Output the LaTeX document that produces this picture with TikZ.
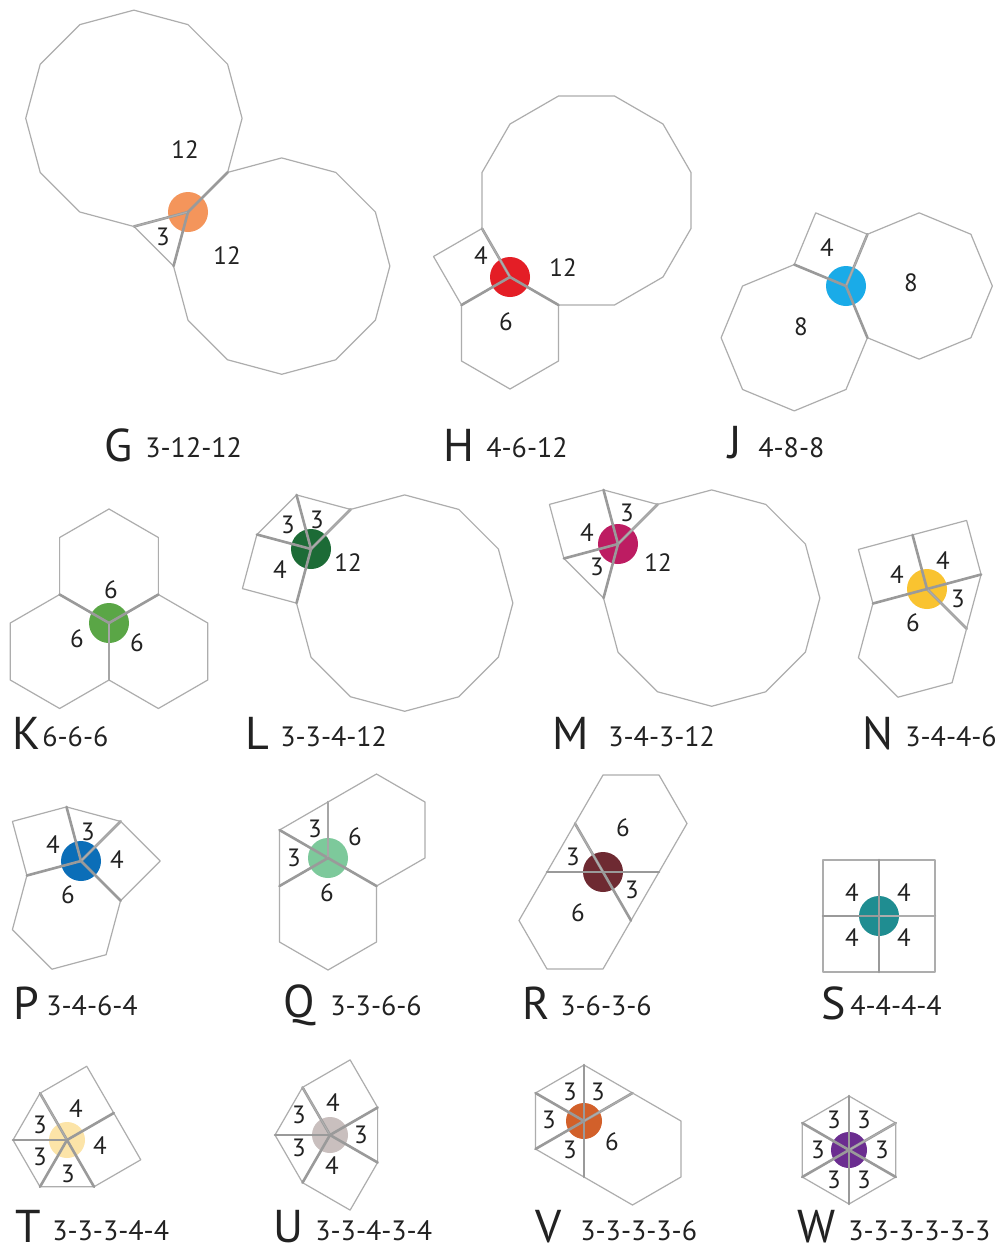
\documentclass[tikz,border=0pt]{standalone}
\usepackage{fontspec}
\setmainfont{PT Sans}

\definecolor{tilegray}{HTML}{ADADAD}
\definecolor{spokegray}{HTML}{9A9A9A}
\definecolor{inkblack}{HTML}{222222}
\definecolor{dotG}{HTML}{F4955B}
\definecolor{dotH}{HTML}{E41E26}
\definecolor{dotJ}{HTML}{1AABE8}
\definecolor{dotK}{HTML}{5AA646}
\definecolor{dotL}{HTML}{1C6B36}
\definecolor{dotM}{HTML}{BD1C62}
\definecolor{dotN}{HTML}{F9C330}
\definecolor{dotP}{HTML}{0B6EB8}
\definecolor{dotQ}{HTML}{7DC99B}
\definecolor{dotR}{HTML}{6E2A32}
\definecolor{dotS}{HTML}{1F8D91}
\definecolor{dotT}{HTML}{FCE4A8}
\definecolor{dotU}{HTML}{C9BFBE}
\definecolor{dotV}{HTML}{D2602A}
\definecolor{dotW}{HTML}{6B2D90}

% regular polygon with a corner at #1: sides, first edge angle, side length
\newcommand{\ngon}[4]{%
  \draw[tile] (#1) \foreach \k in {1,...,#2}{ -- ++({#3+(\k-1)*360/#2}:#4) } -- cycle;
  \draw[spoke] (#1) -- ++(#3:#4);
}
% one vertex figure: name, position, dot colour, polygons (sides/angle), side length
\newcommand{\vfig}[5]{%
  \coordinate (#1) at (#2);
  \fill[#3] (#1) circle (\dotr);
  \foreach \n/\a in {#4} {\ngon{#1}{\n}{\a}{#5}}
}
\def\dotr{20}

\begin{document}
\begin{tikzpicture}[
    x=0.5pt, y=0.5pt,
    tile/.style={draw=tilegray, line width=0.6pt, line join=round},
    spoke/.style={draw=spokegray, line width=1.3pt, line cap=round},
    num/.style={font=\fontsize{12.5}{12.5}\selectfont, text=inkblack, inner sep=0pt},
    letter/.style={font=\fontsize{23}{23}\selectfont, text=inkblack, anchor=base west, inner sep=0pt},
    conf/.style={font=\fontsize{14}{14}\selectfont, text=inkblack, anchor=base west, inner sep=0pt}
]
    \fill[white] (0,0) rectangle (1007,-1254);
    \useasboundingbox (0,0) rectangle (1007,-1254);

    % row 1
    \vfig{G}{188,-212}{dotG}{3/195,12/255,12/45}{56}
    \node[num] (G-a) at (185,-150) {12};
    \node[num] (G-b) at (163,-237) {3};
    \node[num] (G-c) at (227,-256) {12};
    \node[letter] (Gl) at (104,-461) {G};
    \node[conf] (Gc) at (145,-457) {3-12-12};

    \vfig{H}{510,-277}{dotH}{4/120,6/210,12/330}{56}
    \node[num] (H-a) at (481,-256) {4};
    \node[num] (H-b) at (563,-268) {12};
    \node[num] (H-c) at (506,-322) {6};
    \node[letter] (Hl) at (443,-461) {H};
    \node[conf] (Hc) at (486,-457) {4-6-12};

    \vfig{J}{846,-286}{dotJ}{4/67.5,8/157.5,8/292.5}{56}
    \node[num] (J-a) at (827,-248) {4};
    \node[num] (J-b) at (911,-283) {8};
    \node[num] (J-c) at (801,-327) {8};
    \node[letter] (Jl) at (728,-458) {J};
    \node[conf] (Jc) at (758,-457) {4-8-8};

    % row 2
    \vfig{K}{109,-623}{dotK}{6/270,6/30,6/150}{57}
    \node[num] (K-a) at (111,-590) {6};
    \node[num] (K-b) at (77,-639) {6};
    \node[num] (K-c) at (137,-643) {6};
    \node[letter] (Kl) at (12,-749) {K};
    \node[conf] (Kc) at (42,-746) {6-6-6};

    \vfig{L}{311,-549}{dotL}{3/45,3/105,4/165,12/255}{56}
    \node[num] (L-a) at (288,-525) {3};
    \node[num] (L-b) at (317,-520) {3};
    \node[num] (L-c) at (280,-570) {4};
    \node[num] (L-d) at (348,-563) {12};
    \node[letter] (Ll) at (245,-749) {L};
    \node[conf] (Lc) at (280,-746) {3-3-4-12};

    \vfig{M}{618,-544}{dotM}{3/45,4/105,3/195,12/255}{56}
    \node[num] (M-a) at (627,-513) {3};
    \node[num] (M-b) at (587,-533) {4};
    \node[num] (M-c) at (597,-567) {3};
    \node[num] (M-d) at (658,-563) {12};
    \node[letter] (Ml) at (552,-749) {M};
    \node[conf] (Mc) at (608,-746) {3-4-3-12};

    \vfig{N}{927,-589}{dotN}{3/315,4/15,4/105,6/195}{56}
    \node[num] (N-a) at (897,-575) {4};
    \node[num] (N-b) at (943,-561) {4};
    \node[num] (N-c) at (958,-599) {3};
    \node[num] (N-d) at (913,-623) {6};
    \node[letter] (Nl) at (862,-749) {N};
    \node[conf] (Nc) at (905,-746) {3-4-4-6};

    % row 3
    \vfig{P}{81,-861}{dotP}{3/45,4/105,6/195,4/315}{56}
    \node[num] (P-a) at (88,-832) {3};
    \node[num] (P-b) at (53,-845) {4};
    \node[num] (P-c) at (117,-860) {4};
    \node[num] (P-d) at (68,-895) {6};
    \node[letter] (Pl) at (13,-1019) {P};
    \node[conf] (Pc) at (46,-1015) {3-4-6-4};

    \vfig{Q}{328,-858}{dotQ}{3/90,3/150,6/210,6/330}{56}
    \node[num] (Q-a) at (315,-829) {3};
    \node[num] (Q-b) at (294,-858) {3};
    \node[num] (Q-c) at (355,-837) {6};
    \node[num] (Q-d) at (327,-893) {6};
    \node[letter] (Ql) at (283,-1017) {Q};
    \node[conf] (Qc) at (330,-1015) {3-3-6-6};

    \vfig{R}{603,-872}{dotR}{3/120,6/180,3/300,6/0}{56}
    \node[num] (R-a) at (623,-828) {6};
    \node[num] (R-b) at (573,-857) {3};
    \node[num] (R-c) at (632,-890) {3};
    \node[num] (R-d) at (578,-913) {6};
    \node[letter] (Rl) at (522,-1019) {R};
    \node[conf] (Rc) at (560,-1015) {3-6-3-6};

    \vfig{S}{879,-916}{dotS}{4/0,4/90,4/180,4/270}{56}
    \node[num] (S-a) at (852,-893) {4};
    \node[num] (S-b) at (904,-893) {4};
    \node[num] (S-c) at (852,-938) {4};
    \node[num] (S-d) at (904,-938) {4};
    \node[letter] (Sl) at (821,-1019) {S};
    \node[conf] (Sc) at (850,-1015) {4-4-4-4};

    % row 4
    \def\dotr{18}
    \vfig{T}{67,-1140}{dotT}{3/120,3/180,3/240,4/300,4/30}{54}
    \node[num] (T-a) at (40,-1125) {3};
    \node[num] (T-b) at (76,-1109) {4};
    \node[num] (T-c) at (40,-1157) {3};
    \node[num] (T-d) at (100,-1146) {4};
    \node[num] (T-e) at (68,-1174) {3};
    \node[letter] (Tl) at (15,-1242) {T};
    \node[conf] (Tc) at (52,-1240) {3-3-3-4-4};

    \vfig{U}{330,-1135}{dotU}{3/120,3/180,4/240,3/330,4/30}{55}
    \node[num] (U-a) at (333,-1103) {4};
    \node[num] (U-b) at (299,-1115) {3};
    \node[num] (U-c) at (361,-1135) {3};
    \node[num] (U-d) at (299,-1148) {3};
    \node[num] (U-e) at (332,-1166) {4};
    \node[letter] (Ul) at (273,-1242) {U};
    \node[conf] (Uc) at (315,-1240) {3-3-4-3-4};

    \vfig{V}{584,-1121}{dotV}{3/30,3/90,3/150,3/210,6/270}{56}
    \node[num] (V-a) at (570,-1092) {3};
    \node[num] (V-b) at (598,-1092) {3};
    \node[num] (V-c) at (549,-1120) {3};
    \node[num] (V-d) at (570,-1150) {3};
    \node[num] (V-e) at (612,-1142) {6};
    \node[letter] (Vl) at (535,-1242) {V};
    \node[conf] (Vc) at (580,-1240) {3-3-3-3-6};

    \vfig{W}{849,-1150}{dotW}{3/30,3/90,3/150,3/210,3/270,3/330}{54}
    \node[num] (W-a) at (834,-1120) {3};
    \node[num] (W-b) at (864,-1120) {3};
    \node[num] (W-c) at (818,-1150) {3};
    \node[num] (W-d) at (882,-1150) {3};
    \node[num] (W-e) at (834,-1180) {3};
    \node[num] (W-f) at (864,-1180) {3};
    \node[letter] (Wl) at (797,-1242) {W};
    \node[conf] (Wc) at (848,-1240) {3-3-3-3-3-3};
\end{tikzpicture}
\end{document}
